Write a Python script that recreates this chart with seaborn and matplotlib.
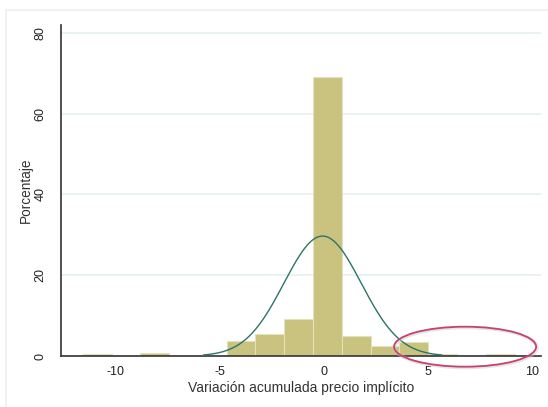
import numpy as np
import matplotlib
matplotlib.use("Agg")
import matplotlib.pyplot as plt
from matplotlib.patches import Ellipse
from matplotlib.lines import Line2D
import seaborn as sns

# ---- data ----
BIN_EDGES = [-11.59, -10.206, -8.822, -7.438, -6.054, -4.67, -3.286, -1.902,
             -0.518, 0.866, 2.25, 3.634, 5.018, 6.402, 7.786, 9.17]
PERCENT = [0.5, 0.0, 0.8, 0.0, 0.0, 3.8, 5.4, 9.1, 69.1, 4.95, 2.55, 3.4, 0.4, 0.0, 0.4]

# normal overlay parameters (mean, sd) of the variable
NORM_MEAN = -0.06
NORM_SD = 1.86

X_TICKS = [-10, -5, 0, 5, 10]
Y_TICKS = [0, 20, 40, 60, 80]
X_LABEL = "Variación acumulada precio implícito"
Y_LABEL = "Porcentaje"

BAR_COLOR = "#c9c37f"
LINE_COLOR = "#2c746a"
RING_COLOR = "#c8426f"

sns.set_style("white")
plt.rcParams["font.family"] = ["Liberation Sans", "DejaVu Sans"]

fig = plt.figure(figsize=(5.48, 4.07), dpi=100)
ax = fig.add_axes([60.7 / 548, 51 / 407, 480.3 / 548, 331.3 / 407])

centers = [(a + b) / 2 for a, b in zip(BIN_EDGES[:-1], BIN_EDGES[1:])]
sns.histplot(x=centers, weights=PERCENT, bins=BIN_EDGES, stat="count",
             color=BAR_COLOR, edgecolor="#e4e1bd", linewidth=0.8, alpha=1,
             ax=ax, zorder=2)

# normal density scaled to percent per bin
width = BIN_EDGES[1] - BIN_EDGES[0]
xs = np.linspace(NORM_MEAN - 5.73, NORM_MEAN + 5.73, 300)
ys = 100 * width * np.exp(-0.5 * ((xs - NORM_MEAN) / NORM_SD) ** 2) / (NORM_SD * np.sqrt(2 * np.pi))
sns.lineplot(x=xs, y=ys, color=LINE_COLOR, linewidth=1.0, ax=ax, zorder=3)

ax.set_xlim(-12.65, 10.44)
ax.set_ylim(0, 82)
ax.set_xticks(X_TICKS)
ax.set_yticks(Y_TICKS)
ax.set_xticklabels([str(t) for t in X_TICKS], fontsize=9, color="#222222")
ax.set_yticklabels([str(t) for t in Y_TICKS], fontsize=9, color="#222222",
                   rotation=90, va="center")
ax.tick_params(axis="both", direction="out", length=4, width=1, color="#333333", pad=3)
ax.tick_params(axis="y", pad=6)

ax.set_xlabel(X_LABEL, fontsize=10, color="#333333")
ax.set_ylabel(Y_LABEL, fontsize=9.8, color="#333333")
ax.xaxis.set_label_coords(0.5, -0.074)
ax.yaxis.set_label_coords(-0.057, 0.5)

ax.yaxis.grid(True, color="#eaf1f1", linewidth=1.4, zorder=0)
ax.set_axisbelow(True)
sns.despine(ax=ax)
for side in ("left", "bottom"):
    ax.spines[side].set_color("#333333")
    ax.spines[side].set_linewidth(1.2)

# highlighted ring around the right tail
shadow = Ellipse((6.83, 2.1), 6.83, 9.9, fill=False, edgecolor="#cccccc",
                 linewidth=2.5, alpha=0.5, clip_on=False, zorder=4)
ax.add_patch(shadow)
ring = Ellipse((6.79, 2.3), 6.83, 9.9, fill=False, edgecolor=RING_COLOR,
               linewidth=1.3, clip_on=False, zorder=5)
ax.add_patch(ring)

# light outer frame
fig.add_artist(Line2D([6 / 548, 6 / 548], [0, 1 - 10 / 407], color="#edf2f2", linewidth=1.5))
fig.add_artist(Line2D([6 / 548, 1], [1 - 10 / 407, 1 - 10 / 407], color="#edf2f2", linewidth=1.5))

fig.savefig("out.png", dpi=100)
